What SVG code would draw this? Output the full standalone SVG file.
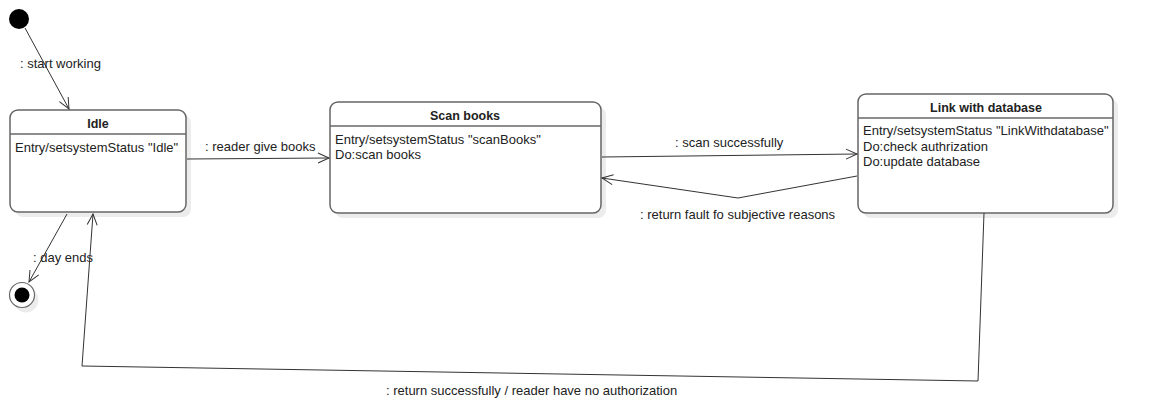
<svg xmlns="http://www.w3.org/2000/svg" width="1156" height="404" viewBox="0 0 1156 404">
<defs>
<marker id="arr" markerWidth="14" markerHeight="12" refX="12" refY="6" orient="auto" markerUnits="userSpaceOnUse">
<path d="M1,1 L12,6 L1,11" fill="none" stroke="#333" stroke-width="1"/>
</marker>
</defs>
<style>
.box{fill:#fff;stroke:#666;stroke-width:1.5}
.shadow{fill:#ececec;stroke:none}
.sep{stroke:#666;stroke-width:1.5}
.title{font-family:"Liberation Sans",Arial,sans-serif;font-size:12.5px;font-weight:bold;fill:#222;text-anchor:middle}
.t{font-family:"Liberation Sans",Arial,sans-serif;font-size:13px;fill:#222}
.c{fill:none;stroke:#333;stroke-width:1}
</style>
<rect width="1156" height="404" fill="#fff"/>
<g id="initial">
<circle cx="19" cy="19" r="10" fill="#000"/>
</g>
<g id="final">
<circle cx="26" cy="300" r="12.5" class="shadow"/>
<circle cx="22" cy="295" r="12.5" fill="#fff" stroke="#666" stroke-width="1.2"/>
<circle cx="22" cy="295" r="7.5" fill="#000"/>
</g>
<g id="idle">
<rect x="15" y="115" width="176" height="102" rx="8" class="shadow"/>
<rect x="10" y="110" width="176" height="102" rx="8" class="box"/>
<line x1="10" y1="134" x2="186" y2="134" class="sep"/>
<text x="98" y="128" class="title">Idle</text>
<text x="15" y="152" class="t">Entry/setsystemStatus "Idle"</text>
</g>
<g id="scanbooks">
<rect x="335" y="107" width="271" height="111" rx="8" class="shadow"/>
<rect x="330" y="102" width="271" height="111" rx="8" class="box"/>
<line x1="330" y1="126" x2="601" y2="126" class="sep"/>
<text x="465" y="120" class="title">Scan books</text>
<text x="335" y="144" class="t">Entry/setsystemStatus "scanBooks"</text>
<text x="335" y="159" class="t">Do:scan books</text>
</g>
<g id="linkdb">
<rect x="863" y="99" width="255" height="119" rx="8" class="shadow"/>
<rect x="858" y="94" width="255" height="119" rx="8" class="box"/>
<line x1="858" y1="118" x2="1113" y2="118" class="sep"/>
<text x="986" y="112" class="title">Link with database</text>
<text x="863" y="135" class="t">Entry/setsystemStatus "LinkWithdatabase"</text>
<text x="863" y="151" class="t">Do:check authrization</text>
<text x="863" y="166" class="t">Do:update database</text>
</g>
<g id="connectors">
<line x1="25" y1="28" x2="69" y2="109" class="c" marker-end="url(#arr)"/>
<text x="20" y="68" class="t">: start working</text>
<line x1="187" y1="159" x2="329" y2="158" class="c" marker-end="url(#arr)"/>
<text x="205" y="151" class="t">: reader give books</text>
<line x1="602" y1="157" x2="857" y2="154" class="c" marker-end="url(#arr)"/>
<text x="675" y="147" class="t">: scan successfully</text>
<polyline points="857,176 738,198 602,178" class="c" marker-end="url(#arr)"/>
<text x="640" y="219" class="t">: return fault fo subjective reasons</text>
<line x1="67" y1="214" x2="29" y2="282" class="c" marker-end="url(#arr)"/>
<text x="33" y="262" class="t">: day ends</text>
<polyline points="984,213 978,381 82,366 93,214" class="c" marker-end="url(#arr)"/>
<text x="386" y="395" class="t">: return successfully / reader have no authorization</text>
</g>
</svg>
